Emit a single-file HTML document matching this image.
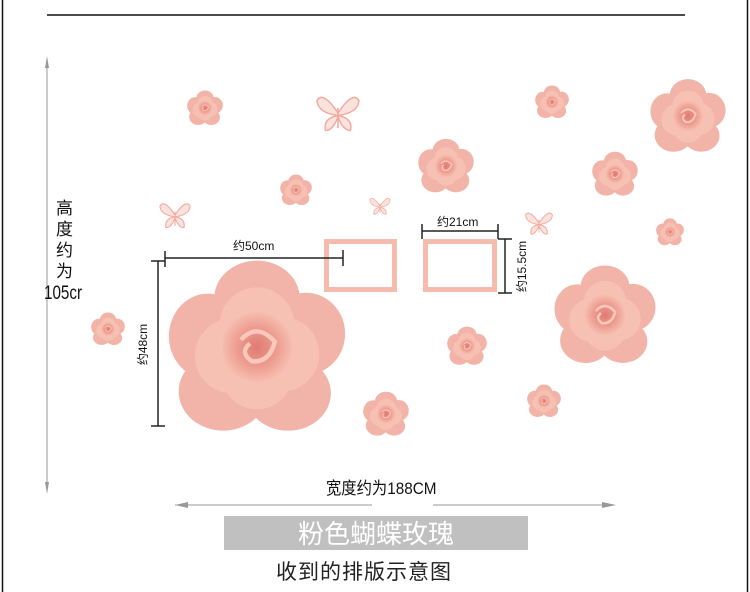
<!DOCTYPE html>
<html><head><meta charset="utf-8"><style>
html,body{margin:0;padding:0;background:#fff}
body{width:750px;height:592px;position:relative;overflow:hidden;font-family:"Liberation Sans","Noto Sans CJK SC",sans-serif}
.t{position:absolute;white-space:nowrap;color:#111}
</style></head><body>
<svg width="750" height="592" style="position:absolute;left:0;top:0">
<defs>
<radialGradient id="cg"><stop offset="0" stop-color="#e07a72"/><stop offset="0.6" stop-color="#ee9f92"/><stop offset="1" stop-color="#f6bfb2"/></radialGradient>
<symbol id="rose" viewBox="-100 -100 200 200">
<g fill="#f2b3a8">
<ellipse cx="0" cy="-55" rx="48" ry="42"/>
<ellipse cx="55" cy="-15" rx="44" ry="46"/>
<ellipse cx="35" cy="52" rx="48" ry="42"/>
<ellipse cx="-38" cy="50" rx="50" ry="44"/>
<ellipse cx="-55" cy="-12" rx="44" ry="48"/>
</g>
<g fill="#f6c0b3">
<circle cx="0" cy="-25" r="42"/><circle cx="28" cy="8" r="42"/><circle cx="-28" cy="10" r="42"/><circle cx="0" cy="30" r="40"/>
</g>
<circle cx="0" cy="0" r="40" fill="url(#cg)"/>
<path d="M-18 -8 Q0 -28 20 -6 Q14 18 -6 16 Q-20 6 -8 -4" fill="none" stroke="#f8c8bb" stroke-width="5"/>
</symbol>
<symbol id="bf" viewBox="-50 -50 100 100">
<g fill="#fbe3dd" stroke="#f2a9a0" stroke-width="3">
<path d="M0 0 Q-30 -45 -42 -25 Q-40 0 0 5Z"/>
<path d="M0 0 Q30 -45 42 -25 Q40 0 0 5Z"/>
<path d="M0 5 Q-30 10 -25 35 Q-10 35 0 8Z"/>
<path d="M0 5 Q30 10 25 35 Q10 35 0 8Z"/>
</g>
<line x1="0" y1="-10" x2="0" y2="30" stroke="#f2a9a0" stroke-width="3"/>
</symbol>
</defs>
<!-- frame -->
<line x1="2.5" y1="0" x2="2.5" y2="592" stroke="#111" stroke-width="1.5"/>
<line x1="747.5" y1="0" x2="747.5" y2="592" stroke="#111" stroke-width="1.5"/>
<line x1="47" y1="15" x2="685" y2="15" stroke="#111" stroke-width="1.5"/>
<!-- height arrow -->
<line x1="47" y1="60" x2="47" y2="490" stroke="#999" stroke-width="1"/>
<path d="M47 56 L45 68 L49 68Z M47 494 L45 482 L49 482Z" fill="#999"/>
<!-- width arrows -->
<line x1="175" y1="505" x2="372" y2="505" stroke="#999"/>
<line x1="433" y1="505" x2="612" y2="505" stroke="#999"/>
<path d="M175 505 L188 502 L188 508Z M616 505 L602 502 L602 508Z" fill="#999"/>
<!-- roses -->
<use href="#rose" x="187" y="90" width="36" height="36"/>
<use href="#rose" x="535" y="85" width="34" height="34"/>
<use href="#rose" x="650" y="78" width="76" height="76"/>
<use href="#rose" x="418" y="138" width="56" height="56"/>
<use href="#rose" x="592" y="151" width="46" height="46"/>
<use href="#rose" x="280" y="174" width="32" height="32"/>
<use href="#rose" x="656" y="218" width="28" height="28"/>
<use href="#rose" x="91" y="312" width="34" height="34"/>
<use href="#rose" x="168" y="258" width="178" height="178"/>
<use href="#rose" x="554" y="264" width="102" height="102"/>
<use href="#rose" x="447" y="326" width="40" height="40"/>
<use href="#rose" x="363" y="391" width="46" height="46"/>
<use href="#rose" x="527" y="384" width="34" height="34"/>
<!-- butterflies -->
<use href="#bf" x="313" y="88" width="50" height="50"/>
<use href="#bf" x="157" y="197" width="36" height="36"/>
<use href="#bf" x="368" y="192" width="24" height="28"/>
<use href="#bf" x="523" y="206" width="32" height="34"/>
<!-- rectangles -->
<rect x="326.5" y="241.5" width="68" height="48" fill="none" stroke="#f5bbad" stroke-width="5"/>
<rect x="425.5" y="241.5" width="69" height="48" fill="none" stroke="#f5bbad" stroke-width="5"/>
<!-- dims -->
<g stroke="#222" stroke-width="1.5">
<line x1="165" y1="258" x2="343" y2="258"/>
<line x1="165" y1="251" x2="165" y2="267"/>
<line x1="343" y1="250" x2="343" y2="266"/>
<line x1="158" y1="261" x2="158" y2="426"/>
<line x1="151" y1="261" x2="165" y2="261"/>
<line x1="151" y1="426" x2="165" y2="426"/>
<line x1="422" y1="231" x2="498" y2="231"/>
<line x1="422" y1="224" x2="422" y2="239"/>
<line x1="498" y1="224" x2="498" y2="239"/>
<line x1="505" y1="239" x2="505" y2="293"/>
<line x1="498" y1="239" x2="512" y2="239"/>
<line x1="498" y1="293" x2="512" y2="293"/>
</g>
</svg>
<div class="t" style="left:233px;top:237px;font-size:12px">约50cm</div>
<div class="t" style="left:437px;top:213px;font-size:12px">约21cm</div>
<div class="t" style="left:496px;top:258px;font-size:12px;transform:rotate(-90deg);transform-origin:center">约15.5cm</div>
<div class="t" style="left:122px;top:336px;font-size:12px;transform:rotate(-90deg)">约48cm</div>
<div class="t" style="left:56px;top:198px;font-size:17px;line-height:21px;width:20px;white-space:normal">高度约为</div>
<div class="t" style="left:44px;top:283px;font-size:19px;transform:scaleX(0.8);transform-origin:left">105cr</div>
<div class="t" style="left:326px;top:474px;font-size:17px;transform:scaleX(0.9);transform-origin:left">宽度约为188CM</div>
<div style="position:absolute;left:224px;top:516px;width:304px;height:34px;background:#c0c0c0;color:#fff;font-size:26px;line-height:34px;text-align:center;font-family:'Noto Sans CJK SC',sans-serif">粉色蝴蝶玫瑰</div>
<div class="t" style="left:276px;top:556px;font-size:21px;letter-spacing:1px;color:#222">收到的排版示意图</div>
</body></html>
